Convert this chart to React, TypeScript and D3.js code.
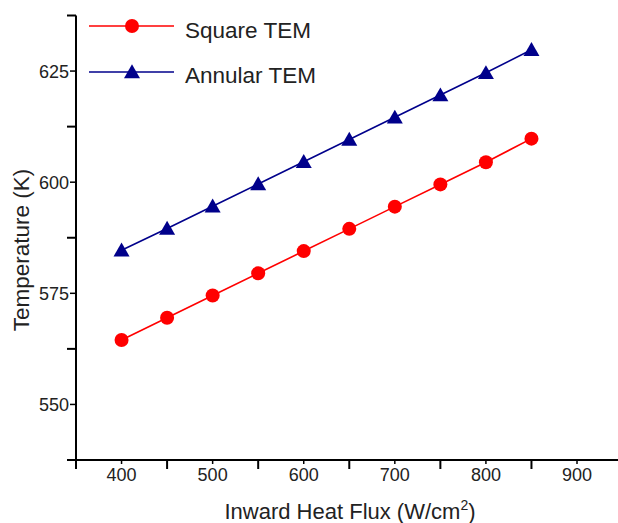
import * as d3 from "d3";

const fluxes = [400, 450, 500, 550, 600, 650, 700, 750, 800, 850];
const squareTemp = [564.5, 569.5, 574.5, 579.5, 584.5, 589.5, 594.5, 599.5, 604.5, 609.8];
const annularTemp = [584.7, 589.6, 594.6, 599.6, 604.6, 609.6, 614.6, 619.6, 624.6, 629.8];
const xLabelTicks = [400, 500, 600, 700, 800, 900];
const xMinorTicks = [350, 450, 550, 650, 750, 850];
const yLabelTicks = [550, 575, 600, 625];
const yMinorTicks = [562.5, 587.5, 612.5, 637.5];

const width = 618;
const height = 523;
const font = "'Liberation Sans', Arial, sans-serif";
const red = "#ff0000";
const blue = "#00008b";

function triangle(cx: number, cy: number, s: number) {
  const h = s * 0.87;
  return `M${cx},${cy - h * 0.55}L${cx + s / 2},${cy + h * 0.45}L${cx - s / 2},${cy + h * 0.45}Z`;
}

export default function App() {
  const x = d3.scaleLinear().domain([350, 945]).range([76, 618]);
  const y = d3.scaleLinear().domain([537.5, 637.5]).range([460, 15.5]);

  const line = d3
    .line<number>()
    .x((_, i) => x(fluxes[i]))
    .y((d) => y(d));

  const x0 = x(350);
  const y0 = y(537.5);

  return (
    <svg
      width={width}
      height={height}
      style={{ position: "absolute", left: 0, top: 0 }}
      fontFamily={font}
    >
      <rect width={width} height={height} fill="#fff" />

      {/* axes */}
      <line x1={67} y1={y0} x2={width} y2={y0} stroke="#000" strokeWidth={2} />
      <line x1={x0} y1={y(637.5)} x2={x0} y2={y0} stroke="#000" strokeWidth={2} />

      {xMinorTicks.map((t) => (
        <line key={`xm-${t}`} x1={x(t)} y1={y0} x2={x(t)} y2={y0 + 9} stroke="#000" strokeWidth={2} />
      ))}
      {xLabelTicks.map((t) => (
        <g key={`xl-${t}`}>
          <line x1={x(t)} y1={y0} x2={x(t)} y2={y0 + 4} stroke="#000" strokeWidth={1.5} />
          <text x={x(t)} y={481} fontSize={18} textAnchor="middle" fill="#222">
            {t}
          </text>
        </g>
      ))}

      {yMinorTicks.map((t) => (
        <line key={`ym-${t}`} x1={x0 - 9} y1={y(t)} x2={x0} y2={y(t)} stroke="#000" strokeWidth={2} />
      ))}
      {yLabelTicks.map((t) => (
        <g key={`yl-${t}`}>
          <line x1={x0 - 6} y1={y(t)} x2={x0} y2={y(t)} stroke="#000" strokeWidth={1.5} />
          <text x={69} y={y(t) + 6.5} fontSize={18} textAnchor="end" fill="#222">
            {t}
          </text>
        </g>
      ))}

      {/* axis titles */}
      <text x={350} y={519} fontSize={22} textAnchor="middle" fill="#222">
        Inward Heat Flux (W/cm
        <tspan fontSize={14} dy={-9}>2</tspan>
        <tspan dy={9}>)</tspan>
      </text>
      <text
        transform="translate(29,250) rotate(-90)"
        fontSize={22.5}
        textAnchor="middle"
        fill="#222"
      >
        Temperature (K)
      </text>

      {/* series */}
      <path d={line(squareTemp) ?? ""} fill="none" stroke={red} strokeWidth={1.6} />
      <path d={line(annularTemp) ?? ""} fill="none" stroke={blue} strokeWidth={1.6} />
      {squareTemp.map((v, i) => (
        <circle key={`s-${i}`} cx={x(fluxes[i])} cy={y(v)} r={7} fill={red} />
      ))}
      {annularTemp.map((v, i) => (
        <path key={`a-${i}`} d={triangle(x(fluxes[i]), y(v), 16)} fill={blue} />
      ))}

      {/* legend */}
      <line x1={89} y1={26} x2={174} y2={26} stroke={red} strokeWidth={1.6} />
      <circle cx={132} cy={26} r={7} fill={red} />
      <text x={185} y={38} fontSize={22.5} fill="#222">
        Square TEM
      </text>
      <line x1={89} y1={72} x2={174} y2={72} stroke={blue} strokeWidth={1.6} />
      <path d={triangle(132, 72, 16)} fill={blue} />
      <text x={185} y={83} fontSize={22.5} fill="#222">
        Annular TEM
      </text>
    </svg>
  );
}
